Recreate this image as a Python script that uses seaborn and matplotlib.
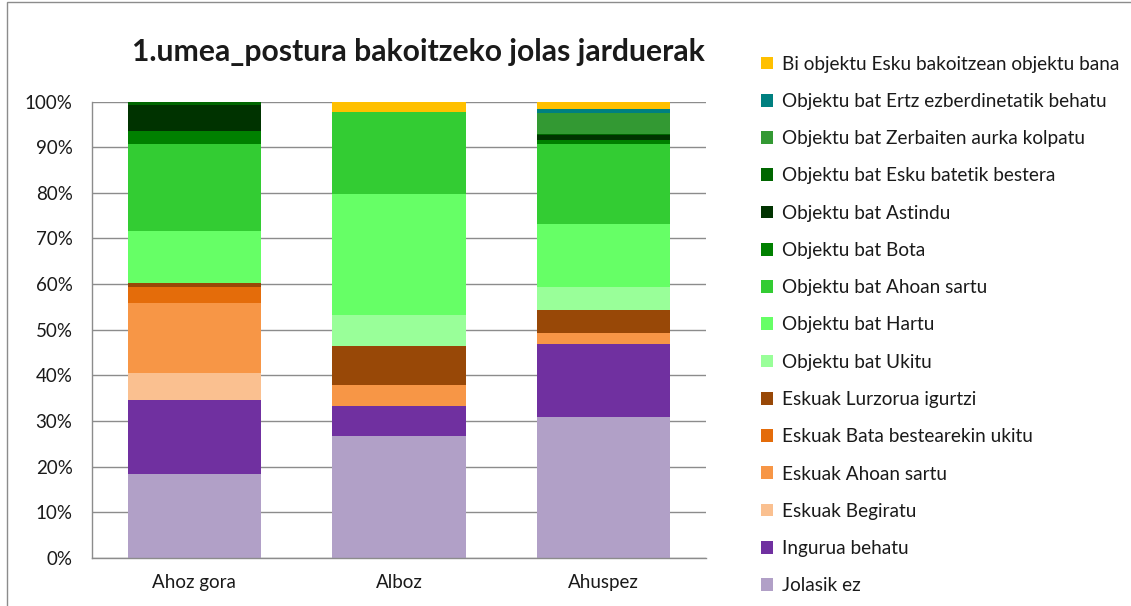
import matplotlib
matplotlib.use("Agg")
import matplotlib.pyplot as plt
import seaborn as sns
import numpy as np
from matplotlib.patches import Patch, Rectangle
from matplotlib.ticker import PercentFormatter

categories = ["Ahoz gora", "Alboz", "Ahuspez"]

# series in stacking order (bottom -> top), values in %
series_names = [
    "Jolasik ez",
    "Ingurua behatu",
    "Eskuak Begiratu",
    "Eskuak Ahoan sartu",
    "Eskuak Bata bestearekin ukitu",
    "Eskuak Lurzorua igurtzi",
    "Objektu bat Ukitu",
    "Objektu bat Hartu",
    "Objektu bat Ahoan sartu",
    "Objektu bat Bota",
    "Objektu bat Astindu",
    "Objektu bat Esku batetik bestera",
    "Objektu bat Zerbaiten aurka kolpatu",
    "Objektu bat Ertz ezberdinetatik behatu",
    "Bi objektu Esku bakoitzean objektu bana",
]

jolasik_ez = [18.4, 26.7, 30.8]
ingurua_behatu = [16.2, 6.5, 16.1]
eskuak_begiratu = [5.8, 0.0, 0.0]
eskuak_ahoan_sartu = [15.5, 4.6, 2.4]
eskuak_bata_bestearekin = [3.5, 0.0, 0.0]
eskuak_lurzorua = [0.8, 8.7, 5.0]
objektu_ukitu = [0.0, 6.7, 5.1]
objektu_hartu = [11.5, 26.6, 13.8]
objektu_ahoan_sartu = [19.1, 17.9, 17.6]
objektu_bota = [2.8, 0.0, 0.8]
objektu_astindu = [5.6, 0.0, 1.0]
objektu_esku_batetik = [0.8, 0.0, 0.4]
objektu_zerbaiten = [0.0, 0.0, 4.5]
objektu_ertz = [0.0, 0.0, 0.8]
bi_objektu = [0.0, 2.3, 1.8]

series_values = [
    jolasik_ez, ingurua_behatu, eskuak_begiratu, eskuak_ahoan_sartu,
    eskuak_bata_bestearekin, eskuak_lurzorua, objektu_ukitu, objektu_hartu,
    objektu_ahoan_sartu, objektu_bota, objektu_astindu, objektu_esku_batetik,
    objektu_zerbaiten, objektu_ertz, bi_objektu,
]

colors = [
    "#B1A0C7", "#7030A0", "#FAC090", "#F79646", "#E46C0A", "#984807",
    "#99FF99", "#66FF66", "#33CC33", "#008000", "#003300", "#006600",
    "#339933", "#008080", "#FFC000",
]

y_ticks = [0, 10, 20, 30, 40, 50, 60, 70, 80, 90, 100]

sns.set_theme(style="white")
plt.rcParams["font.family"] = ["Lato", "DejaVu Sans"]

fig = plt.figure(figsize=(11.31, 6.06), dpi=100)
ax = fig.add_axes([92 / 1131, 1 - 557.7 / 606, (706 - 92) / 1131, (557.7 - 101.7) / 606])

bottom = np.zeros(len(categories))
for name, vals, col in zip(series_names, series_values, colors):
    sns.barplot(x=categories, y=vals, bottom=bottom, color=col, width=0.65,
                ax=ax, label=name, saturation=1, linewidth=0)
    bottom = bottom + np.array(vals)

ax.set_ylim(0, 100)
ax.set_xlim(-0.5, 2.5)
ax.set_yticks(y_ticks)
ax.yaxis.set_major_formatter(PercentFormatter(decimals=0))
ax.grid(axis="y", color="#8c8c8c", linewidth=1.0)
ax.set_axisbelow(True)
for s in ["top", "right"]:
    ax.spines[s].set_visible(False)
ax.spines["left"].set_color("#8c8c8c")
ax.spines["bottom"].set_color("#8c8c8c")
ax.spines["left"].set_linewidth(1.0)
ax.spines["bottom"].set_linewidth(1.0)
ax.tick_params(axis="both", length=0, labelsize=13.5, colors="#1a1a1a")
ax.tick_params(axis="y", pad=14)
ax.tick_params(axis="x", pad=12)
ax.set_xlabel("")
ax.set_ylabel("")
if ax.get_legend():
    ax.get_legend().remove()

fig.text(418 / 1131, 1 - 52 / 606, "1.umea_postura bakoitzeko jolas jarduerak",
         ha="center", va="center", fontsize=21.7, fontweight="bold", color="#1a1a1a")

handles = [Patch(facecolor=c, edgecolor="none") for c in colors][::-1]
labels = series_names[::-1]
leg = fig.legend(handles, labels, loc="upper left",
                 bbox_to_anchor=(753 / 1131, 1 - 48 / 606),
                 frameon=False, fontsize=13.7, labelspacing=1.065,
                 handlelength=0.65, handleheight=0.65, handletextpad=0.45,
                 borderaxespad=0)
for t in leg.get_texts():
    t.set_color("#1a1a1a")

# outer chart border
fig.patches.append(Rectangle((7 / 1131, -0.01), 1.0, 1 - 2 / 606 + 0.01,
                             transform=fig.transFigure, fill=False,
                             edgecolor="#8c8c8c", linewidth=1.0))

fig.savefig("out.png", dpi=100)
